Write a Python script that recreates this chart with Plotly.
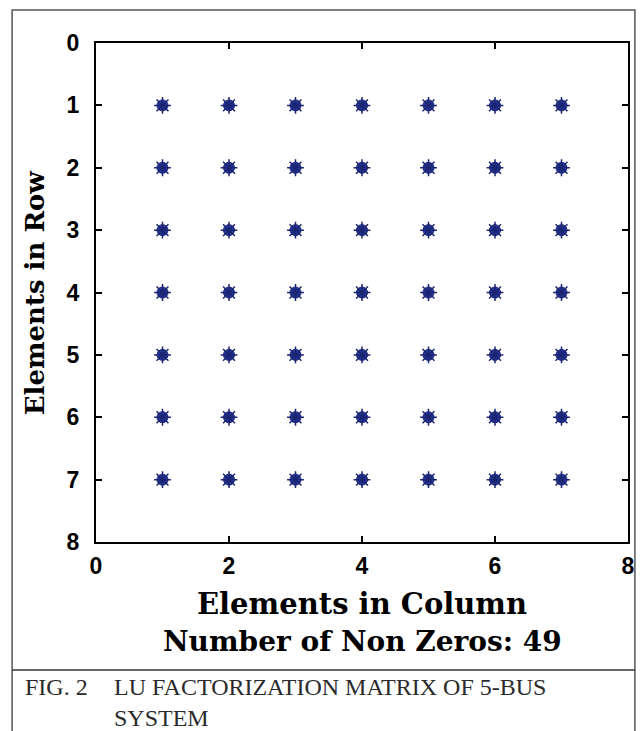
import plotly.graph_objects as go

# Sparsity pattern of the LU factorization matrix (1 = non-zero)
row_labels = [1, 2, 3, 4, 5, 6, 7]
col_labels = [1, 2, 3, 4, 5, 6, 7]
pattern = [
    [1, 1, 1, 1, 1, 1, 1],
    [1, 1, 1, 1, 1, 1, 1],
    [1, 1, 1, 1, 1, 1, 1],
    [1, 1, 1, 1, 1, 1, 1],
    [1, 1, 1, 1, 1, 1, 1],
    [1, 1, 1, 1, 1, 1, 1],
    [1, 1, 1, 1, 1, 1, 1],
]
x_ticks = [0, 2, 4, 6, 8]
y_ticks = [0, 1, 2, 3, 4, 5, 6, 7, 8]
x_title = "Elements in Column"
y_title = "Elements in Row"
caption_tag = "FIG. 2"
caption_text = "LU FACTORIZATION MATRIX OF 5-BUS<br>SYSTEM"

xs, ys = [], []
for i, r in enumerate(row_labels):
    for j, c in enumerate(col_labels):
        if pattern[i][j]:
            xs.append(c)
            ys.append(r)
nnz = len(xs)

W, H = 644, 731
L, R, T, B = 96, 635, 43, 542


def px(x):
    return (x - L) / (R - L)


def py(y):
    return (B - y) / (B - T)


fig = go.Figure()
fig.add_trace(go.Scatter(
    x=xs, y=ys, mode="markers",
    marker=dict(symbol="circle", size=11, color="#26359a",
                line=dict(color="#1a2470", width=1)),
    hoverinfo="x+y", showlegend=False,
))
fig.add_trace(go.Scatter(
    x=xs, y=ys, mode="markers",
    marker=dict(symbol="asterisk-open", size=14, color="#1a2470",
                line=dict(color="#1a2470", width=1.5)),
    hoverinfo="skip", showlegend=False,
))

tickfont = dict(family="Liberation Sans, Arial, sans-serif", size=23,
                color="black", weight="bold")
fig.update_xaxes(
    range=[0, 8], tickvals=x_ticks, ticktext=[str(v) for v in x_ticks],
    ticks="inside", ticklen=6, tickwidth=2, tickcolor="black",
    showline=True, linecolor="black", linewidth=2, mirror="ticks",
    showgrid=False, zeroline=False, tickfont=tickfont,
    ticklabelstandoff=2,
)
fig.update_yaxes(
    range=[8, 0], tickvals=y_ticks, ticktext=[str(v) for v in y_ticks],
    ticks="inside", ticklen=6, tickwidth=2, tickcolor="black",
    showline=True, linecolor="black", linewidth=2, mirror="ticks",
    showgrid=False, zeroline=False, tickfont=tickfont,
    ticklabelstandoff=10,
)

ann = [
    dict(x=0.5, y=py(604), xref="paper", yref="paper", text=x_title,
         showarrow=False, xanchor="center", yanchor="middle",
         font=dict(family="DejaVu Serif, serif", size=29, color="black",
                   weight="bold")),
    dict(x=0.5, y=py(641), xref="paper", yref="paper",
         text=f"Number of Non Zeros: {nnz}",
         showarrow=False, xanchor="center", yanchor="middle",
         font=dict(family="DejaVu Serif, serif", size=28, color="black",
                   weight="bold")),
    dict(x=px(34), y=0.5, xref="paper", yref="paper", text=y_title,
         showarrow=False, xanchor="center", yanchor="middle", textangle=-90,
         font=dict(family="DejaVu Serif, serif", size=26, color="black",
                   weight="bold")),
    dict(x=px(22), y=py(672), xref="paper", yref="paper", text=caption_tag,
         showarrow=False, xanchor="left", yanchor="top", align="left",
         font=dict(family="Liberation Serif, Times New Roman, serif", size=24,
                   color="#2a2a2a")),
    dict(x=px(112), y=py(672), xref="paper", yref="paper", text=caption_text,
         showarrow=False, xanchor="left", yanchor="top", align="left",
         font=dict(family="Liberation Serif, Times New Roman, serif", size=24,
                   color="#2a2a2a")),
]

shapes = [
    dict(type="path", xref="paper", yref="paper",
         path=f"M {px(11)} {py(740)} L {px(11)} {py(10)} L {px(642)} {py(10)} L {px(642)} {py(740)}",
         line=dict(color="#555555", width=1.5)),
    dict(type="line", xref="paper", yref="paper",
         x0=px(11), x1=px(642), y0=py(670), y1=py(670),
         line=dict(color="#333333", width=1.5)),
]

fig.update_layout(
    width=W, height=H,
    margin=dict(l=L, r=W - R, t=T, b=H - B),
    paper_bgcolor="white", plot_bgcolor="white",
    annotations=ann, shapes=shapes,
)
fig.write_html("out.html")
